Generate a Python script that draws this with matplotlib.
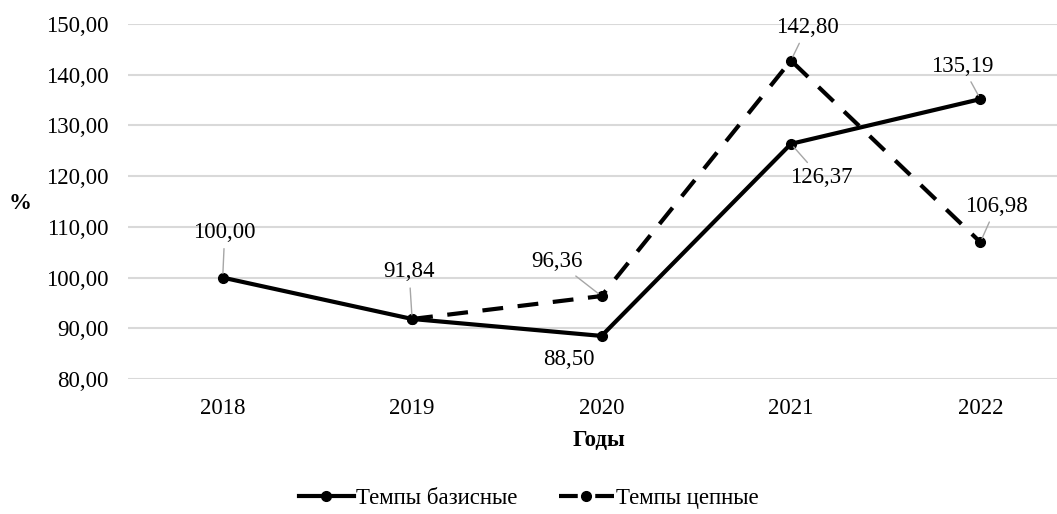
import matplotlib.pyplot as plt
from matplotlib.lines import Line2D

plt.rcParams['font.family'] = ['Liberation Serif', 'DejaVu Serif']

# ===== данные =====
years = ["2018", "2019", "2020", "2021", "2022"]
base_rates = [100.00, 91.84, 88.50, 126.37, 135.19]      # темпы базисные
chain_years = ["2019", "2020", "2021", "2022"]
chain_rates = [91.84, 96.36, 142.80, 106.98]              # темпы цепные
y_ticks = [80, 90, 100, 110, 120, 130, 140, 150]

# смещения подписей (пиксели); False -> без выноски
base_offsets = [(2, 45), (-3, 47), (-33, -24), (30, -34), (-18, 33)]
base_leader = [True, True, False, True, True]
chain_offsets = [None, (-45, 35), (16, 33), (16, 36)]

FS = 16.5

def fmt(v):
    return f"{v:.2f}".replace(".", ",")

fig = plt.figure(figsize=(10.57, 5.14), dpi=100)
ax = fig.add_axes([0.1211, 0.2626, 0.896, 0.6907])

xb = [years.index(y) for y in years]
xc = [years.index(y) for y in chain_years]

ax.plot(xb, base_rates, color="black", lw=3, marker="o", ms=7, zorder=3)
ax.plot(xc, chain_rates, color="black", lw=3, marker="o", ms=7,
        dashes=(5, 3.5), zorder=3)

def label(x, y, off, leader=True):
    if off is None:
        return
    arrow = dict(arrowstyle="-", color="#a6a6a6", lw=1, shrinkA=2, shrinkB=3)
    ax.annotate(fmt(y), (x, y), xytext=off, textcoords="offset pixels",
                ha="center", va="center", fontsize=FS,
                arrowprops=arrow if leader else None)

for x, y, o, l in zip(xb, base_rates, base_offsets, base_leader):
    label(x, y, o, l)
for x, y, o in zip(xc, chain_rates, chain_offsets):
    label(x, y, o)

ax.set_xlim(-0.5, 4.5)
ax.set_ylim(80, 150)
ax.set_xticks(xb)
ax.set_xticklabels(years)
ax.set_yticks(y_ticks)
ax.set_yticklabels([fmt(v) for v in y_ticks])
ax.tick_params(length=0, labelsize=FS)
ax.tick_params(axis="y", pad=14)
ax.tick_params(axis="x", pad=14)
ax.grid(axis="y", color="#d9d9d9", lw=1.5)
ax.set_axisbelow(True)
for s in ax.spines.values():
    s.set_visible(False)

fig.text(0.567, 0.143, "Годы", ha="center", va="center",
         fontsize=FS, fontweight="bold")
fig.text(0.019, 0.605, "%", ha="center", va="center",
         fontsize=FS, fontweight="bold")

handles = [
    Line2D([], [], color="black", lw=3, marker="o", ms=7),
    Line2D([], [], color="black", lw=3, marker="o", ms=7, dashes=(4.5, 4.2)),
]
fig.legend(handles, ["Темпы базисные", "Темпы цепные"], loc="center",
           bbox_to_anchor=(0.5, 0.03), ncol=2, frameon=False, fontsize=FS,
           handlelength=2.4, handletextpad=0.1, columnspacing=1.8)

fig.savefig("out.png", dpi=100)
